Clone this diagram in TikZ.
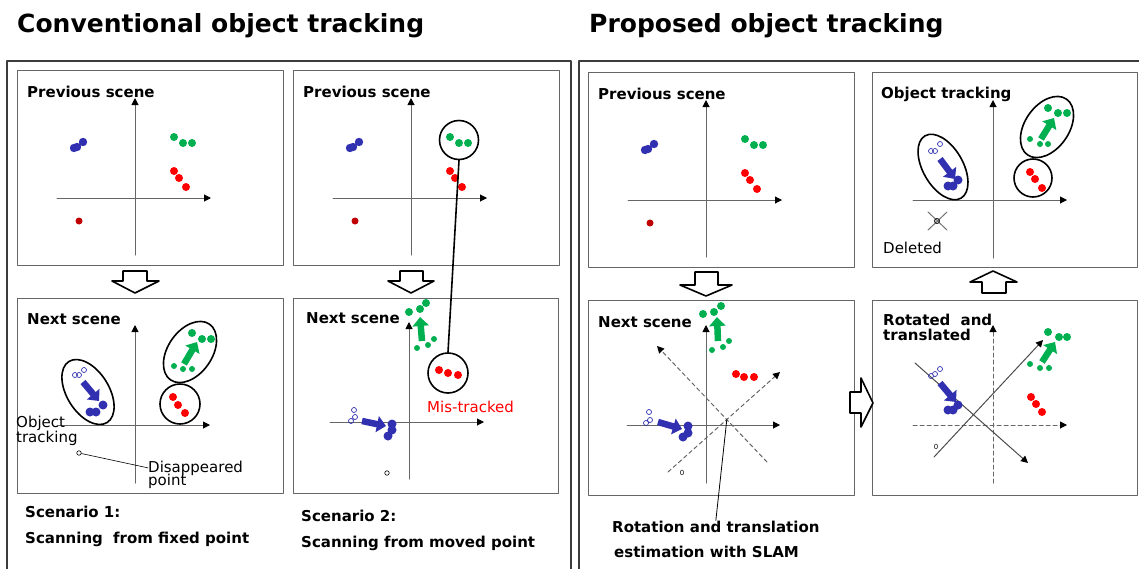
\documentclass[tikz,border=0pt]{standalone}
\usepackage{fontspec}
\setmainfont{DejaVu Sans}
\usetikzlibrary{arrows.meta}

\definecolor{objblue}{RGB}{48,48,176}
\definecolor{objgreen}{RGB}{0,176,80}
\definecolor{objred}{RGB}{255,0,0}
\definecolor{objdark}{RGB}{192,0,0}
\definecolor{framegray}{RGB}{60,60,60}

\begin{document}
\begin{tikzpicture}[line cap=round,line join=round,x=1pt,y=-1pt,
  panel/.style={draw=black!60,line width=1},
  axis/.style={draw=black!60,line width=1,-{Triangle[length=7pt,width=7pt,color=black]}},
  daxis/.style={axis,dash pattern=on 4pt off 3pt},
  ring/.style={draw=black,line width=1.6},
  mov/.style={line width=6.5,line cap=butt,-{Triangle[length=9pt,width=16pt]}},
  hollow/.style={draw=black,fill=white,line width=1.6},
  lbl/.style={anchor=base west,inner sep=0,font=\bfseries\fontsize{15}{17}\selectfont},
  txt/.style={anchor=base west,inner sep=0,font=\fontsize{15}{17}\selectfont},
  title/.style={anchor=base west,inner sep=0,font=\bfseries\fontsize{25}{30}\selectfont},
  tiny/.style={inner sep=0,font=\fontsize{7}{8}\selectfont}]
\clip(0,0) rectangle (1139,568);
\node[title] (conv) at (17,32) {Conventional object tracking};
\node[title] (prop) at (589,32) {Proposed object tracking};
\draw[framegray,line width=1.6] (7,575) -- (7,61) -- (571,61) -- (571,575);
\draw[framegray,line width=1.6] (579,575) -- (579,61) -- (1145,61);
% previous scenes
\foreach \dx/\dy in {0/0,276/0,571/2}{
\begin{scope}[shift={(\dx,\dy)}]
\draw[panel] (17,70) rectangle (283,265);
\node[lbl] (prev\dx) at (27,97) {Previous scene};
\draw[axis] (135,255) -- (135,98);
\draw[axis] (57,198) -- (211,198);
\fill[objblue] (83,142) circle (4.2) (77,147) circle (4.2) (74,148) circle (4.2);
\fill[objgreen] (174,137) circle (4) (183,143) circle (4) (192,143) circle (4);
\fill[objred] (174,171) circle (4) (179,178) circle (4) (186,187) circle (4);
\fill[objdark] (79,221) circle (3.5);
\end{scope}
}
% scenario 1
\draw[panel] (17,298) rectangle (283,493);
\node[lbl] (nextA) at (27,324) {Next scene};
\draw[axis] (135,483) -- (135,325);
\draw[axis] (57,425) -- (210,425);
\draw[ring,rotate around={-58:(88,392)}] (88,392) ellipse (36 and 21);
\draw[ring,rotate around={55:(190,352)}] (190,352) ellipse (34 and 22);
\draw[ring] (180,404) circle (20);
\draw[objblue,line width=0.7] (75,375) circle (2.5) (79,375) circle (2.5) (84,370) circle (2.5);
\draw[mov,objblue] (83,382) -- (99,401);
\fill[objblue] (90,412) circle (4.5) (96,412) circle (4.5) (103,405) circle (4.5);
\fill[objgreen] (192,333) circle (4) (202,339) circle (4) (211,339) circle (4);
\fill[objgreen] (174,366) circle (3) (183,369) circle (3) (192,369) circle (3);
\draw[mov,objgreen] (184,364) -- (197,342);
\fill[objred] (173,397) circle (4) (178,405) circle (4) (185,413) circle (4);
\node[txt] (trackA1) at (16,427) {Object};
\node[txt] (trackA2) at (16,442) {tracking};
\node[draw,circle,inner sep=0,minimum size=4.5,line width=0.6] (goneA) at (79,453) {};
\node[txt] (goneTxtA) at (148,472) {Disappeared};
\node[txt] (goneTxtB) at (148,485) {point};
\draw[line width=0.6] (goneA) -- (goneTxtA.west);
\node[lbl] (scenA1) at (25,517) {Scenario 1:};
\node[lbl] (scenA2) at (25,543) {Scanning\hspace{5pt} from fixed point};
% scenario 2
\node[ring,circle,minimum size=39,inner sep=0] (trk) at (459,140) {};
\draw[panel] (293,298) rectangle (558,493);
\node[lbl] (nextB) at (306,323) {Next scene};
\draw[axis] (409,479) -- (409,322);
\draw[axis] (330,422) -- (484,422);
\fill[objgreen] (409,312) circle (4) (420,309) circle (4) (426,303) circle (4);
\fill[objgreen] (417,348) circle (3) (428,345) circle (3) (434,339) circle (3);
\draw[mov,objgreen] (422,341) -- (420,317);
\node[ring,circle,minimum size=40,inner sep=0] (mis) at (448,373) {};
\fill[objred] (439,370) circle (4) (448,373) circle (4) (458,375) circle (4);
\draw[line width=1.6] (trk.south) -- (mis.north);
\node[txt,objred] (misTxt) at (427,412) {Mis-tracked};
\draw[objblue,line width=0.7] (354,410) circle (2.5) (355,417) circle (2.5) (351,421) circle (2.5);
\draw[mov,objblue] (362,421) -- (386,426);
\fill[objblue] (392,424) circle (4.5) (392,430) circle (4.5) (388,436) circle (4.5);
\node[draw,circle,inner sep=0,minimum size=4.5,line width=0.6] (goneB) at (387,473) {};
\node[lbl] (scenB1) at (301,521) {Scenario 2:};
\node[lbl] (scenB2) at (301,547) {Scanning from moved point};
% proposed, next scene
\draw[panel] (588,300) rectangle (854,495);
\node[lbl] (nextC) at (598,327) {Next scene};
\draw[axis] (706,483) -- (706,325);
\draw[axis] (627,425) -- (780,425);
\draw[daxis] (668,472) -- (780,372);
\draw[daxis] (767,462) -- (657,346);
\fill[objgreen] (703,314) circle (4) (714,312) circle (4) (721,306) circle (4);
\fill[objgreen] (712,350) circle (3) (723,347) circle (3) (729,341) circle (3);
\draw[mov,objgreen] (718,341) -- (717,317);
\fill[objred] (736,374) circle (4) (744,377) circle (4) (754,377) circle (4);
\draw[objblue,line width=0.7] (649,412) circle (2.5) (650,420) circle (2.5) (646,423) circle (2.5);
\draw[mov,objblue] (658,422) -- (682,429);
\fill[objblue] (688,426) circle (4.5) (688,433) circle (4.5) (683,437) circle (4.5);
\node[tiny] (zeroC) at (682,473) {0};
\coordinate (slam) at (intersection of 668,472--780,372 and 767,462--657,346);
\node[lbl] (rot) at (612,532) {Rotation and translation};
\node[lbl] (est) at (614,557) {estimation with SLAM};
\draw[line width=0.8] (slam) -- (rot.north);
% proposed, rotated
\draw[panel] (872,300) rectangle (1137,495);
\node[lbl] (rotd1) at (883,325) {Rotated\hspace{5pt} and};
\node[lbl] (rotd2) at (883,340) {translated};
\draw[daxis] (993,483) -- (993,325);
\draw[daxis] (913,425) -- (1067,425);
\draw[axis,draw=black!70] (934,457) -- (1043,340);
\draw[axis,draw=black!70] (915,363) -- (1028,463);
\fill[objgreen] (1048,332) circle (4) (1059,337) circle (4) (1067,337) circle (4);
\fill[objgreen] (1030,364) circle (3) (1040,368) circle (3) (1049,368) circle (3);
\draw[mov,objgreen] (1042,362) -- (1055,342);
\fill[objred] (1031,397) circle (4) (1036,404) circle (4) (1042,412) circle (4);
\draw[objblue,line width=0.7] (931,376) circle (2.5) (935,374) circle (2.5) (940,369) circle (2.5);
\draw[mov,objblue] (940,383) -- (956,402);
\fill[objblue] (948,410) circle (4.5) (953,410) circle (4.5) (958,405) circle (4.5);
\node[tiny] (zeroD) at (936,447) {0};
% proposed, object tracking
\draw[panel] (872,72) rectangle (1137,267);
\node[lbl] (objtr) at (881,98) {Object tracking};
\draw[axis] (993,258) -- (993,100);
\draw[axis] (913,200) -- (1067,200);
\draw[ring,rotate around={-60:(943,167)}] (943,167) ellipse (36 and 20);
\draw[ring,rotate around={55:(1047,127)}] (1047,127) ellipse (34 and 22);
\draw[ring] (1033,178) circle (19);
\draw[objblue,line width=0.7] (931,151) circle (2.5) (935,151) circle (2.5) (940,144) circle (2.5);
\draw[mov,objblue] (940,159) -- (955,179);
\fill[objblue] (948,186) circle (4.5) (953,186) circle (4.5) (958,180) circle (4.5);
\fill[objgreen] (1048,108) circle (4) (1058,113) circle (4) (1067,113) circle (4);
\fill[objgreen] (1030,139) circle (3) (1040,144) circle (3) (1048,144) circle (3);
\draw[mov,objgreen] (1041,139) -- (1054,118);
\fill[objred] (1030,172) circle (4) (1035,179) circle (4) (1042,188) circle (4);
\draw[black!55,line width=1] (928,212) -- (947,230) (947,212) -- (928,230);
\draw[line width=0.8] (937,221) circle (2.5);
\node[txt] (del) at (883,253) {Deleted};
% hollow arrows
\draw[hollow] (123,271) -- (147,271) -- (147,281) -- (159,281) -- (135,293) -- (112,281) -- (123,281) -- cycle;
\draw[hollow] (400,271) -- (423,271) -- (423,281) -- (434,281) -- (411,293) -- (388,281) -- (400,281) -- cycle;
\draw[hollow] (695,272) -- (718,272) -- (718,285) -- (732,285) -- (706,296) -- (680,285) -- (695,285) -- cycle;
\draw[hollow] (850,392) -- (861,392) -- (861,378) -- (873,403) -- (861,427) -- (861,413) -- (850,413) -- cycle;
\draw[hollow] (982,293) -- (1006,293) -- (1006,282) -- (1017,282) -- (993,271) -- (970,282) -- (982,282) -- cycle;
\end{tikzpicture}
\end{document}
